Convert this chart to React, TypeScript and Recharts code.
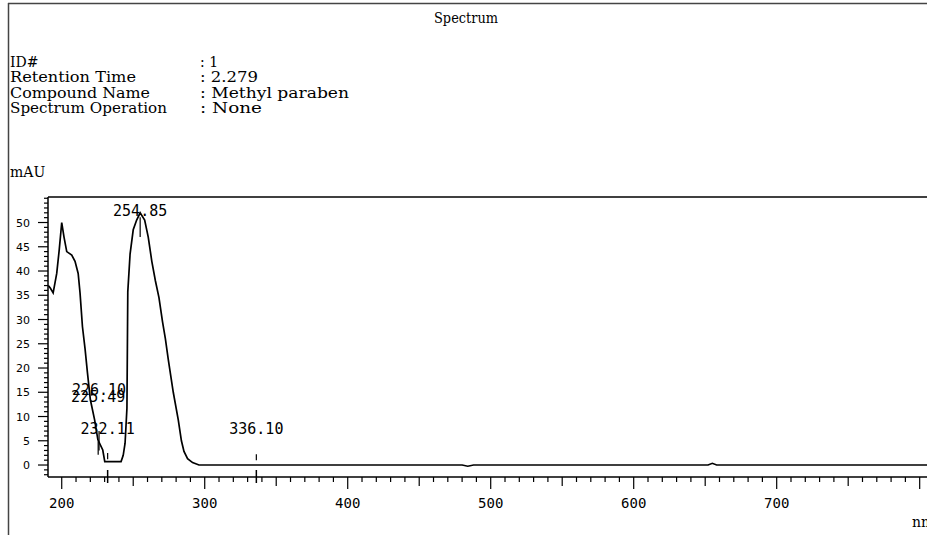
import React from 'react';
import { ComposedChart, Line, Scatter, XAxis, YAxis, ReferenceLine } from 'recharts';

// spectrum trace (nm vs mAU)
const wavelengths = [
  190.6, 192, 194, 196.5, 198.3, 200, 201.6, 203.5, 207, 209.3, 211.5, 212.8, 214.5, 216.3, 218,
  220, 223, 225.3, 228.7, 230.1, 241.5, 243, 244.3, 245.6, 246.2, 247.8, 250, 252.4, 254.85,
  258, 260.5, 263, 265.5, 268, 270.5, 272.5, 274.5, 278, 281.5, 283.7, 285.5, 288, 291.5, 296,
  300, 400, 480, 484, 488, 652, 655, 658, 750, 822,
];
const absorbance = [
  37, 36.5, 35.5, 39.5, 44.5, 50, 47, 44, 43.3, 42, 39.5, 35.5, 28.5, 24, 19,
  13.5, 9.3, 5.2, 3.1, 0.7, 0.7, 2, 4.5, 11.7, 35.7, 43.5, 48.5, 50.5, 52,
  50.5, 47, 42, 38, 34.5, 29.5, 26, 21.8, 15, 9.3, 5, 2.8, 1.3, 0.5, 0,
  0, 0, 0, -0.25, 0, 0, 0.35, 0, 0, 0,
];

// detected peaks
const peakNm = [225.49, 226.1, 232.11, 254.85, 336.1];
const peakLabels = ['225.49', '226.10', '232.11', '254.85', '336.10'];
const labelMAU = [14, 15.5, 7.4, 52.4, 7.4];
const markTop = [4.9, 7, 2.5, 51.1, 2.2];
const markBottom = [2.1, 3, 1.2, 47, 1];
const axisPeakMarks = [232.11, 336.1];

const xMajorTicks = [200, 300, 400, 500, 600, 700];
const yMajorTicks = [0, 5, 10, 15, 20, 25, 30, 35, 40, 45, 50];

const infoLabels = ['ID#', 'Retention Time', 'Compound Name', 'Spectrum Operation'];
const infoLabelWidths = [undefined, 126, 140, 157];
const infoValues = [': 1', ': 2.279', ': Methyl paraben', ': None'];
const infoValueWidths = [undefined, 58, 149, 62];

const X_MIN = 190.4;
const X_MAX = 821.2;
const Y_MIN = -2.47;
const Y_MAX = 55.26;

const xTicks: number[] = [];
for (let v = 200; v <= 820; v += 10) xTicks.push(v);
axisPeakMarks.forEach(v => xTicks.push(v));
xTicks.sort((a, b) => a - b);

const yTicks: number[] = [];
for (let v = -2; v <= 55; v++) yTicks.push(v);

const XTick = (props: any) => {
  const { x, y, payload } = props;
  const v = payload.value;
  if (axisPeakMarks.includes(v)) {
    return <line x1={x} x2={x} y1={y - 7} y2={y + 6} stroke="#000" strokeWidth={1.5} />;
  }
  const len = v % 100 === 0 ? 12 : v % 50 === 0 ? 9 : 5;
  return (
    <g>
      <line x1={x} x2={x} y1={y} y2={y + len} stroke="#000" strokeWidth={1.2} />
      {xMajorTicks.includes(v) && (
        <text x={x} y={y + 31} textAnchor="middle" fontFamily="DejaVu Sans Mono" fontSize={14} fill="#000">
          {v}
        </text>
      )}
    </g>
  );
};

const YTick = (props: any) => {
  const { x, y, payload } = props;
  const v = payload.value;
  const major = yMajorTicks.includes(v);
  return (
    <g>
      <line x1={x - (major ? 10 : 4)} x2={x} y1={y} y2={y} stroke="#000" strokeWidth={1.2} />
      {major && (
        <text x={x - 18} y={y + 4} textAnchor="end" fontFamily="DejaVu Sans" fontSize={11} fill="#000">
          {v}
        </text>
      )}
    </g>
  );
};

const PeakLabel = (props: any) => {
  const { cx, cy, payload } = props;
  return (
    <text x={cx} y={cy} dy="0.35em" textAnchor="middle" fontFamily="DejaVu Sans Mono" fontSize={15} fill="#000">
      {payload.text}
    </text>
  );
};

export default function App() {
  const data = wavelengths.map((nm, i) => ({ nm, mAU: absorbance[i] }));
  const labels = peakNm.map((nm, i) => ({ nm, mAU: labelMAU[i], text: peakLabels[i] }));
  const serif = { fontFamily: 'DejaVu Serif', fontSize: 14, fill: '#000', lengthAdjust: 'spacingAndGlyphs' as const };

  return (
    <div style={{ position: 'fixed', left: 0, top: 0, width: 927, height: 535, overflow: 'hidden', background: '#fff' }}>
      <ComposedChart width={960} height={535} data={data} margin={{ top: 197, right: 10, bottom: 0, left: 8 }}>
        <XAxis
          dataKey="nm"
          type="number"
          domain={[X_MIN, X_MAX]}
          allowDataOverflow
          ticks={xTicks}
          interval={0}
          tick={<XTick />}
          tickLine={false}
          tickSize={0}
          tickMargin={0}
          height={58}
          axisLine={{ stroke: '#000', strokeWidth: 1.5 }}
        />
        <YAxis
          type="number"
          domain={[Y_MIN, Y_MAX]}
          allowDataOverflow
          ticks={yTicks}
          interval={0}
          tick={<YTick />}
          tickLine={false}
          tickSize={0}
          tickMargin={0}
          width={40}
          axisLine={{ stroke: '#000', strokeWidth: 1.5 }}
        />
        <ReferenceLine y={Y_MAX} stroke="#000" strokeWidth={1.5} />
        <Line
          dataKey="mAU"
          type="linear"
          stroke="#000"
          strokeWidth={1.7}
          dot={false}
          isAnimationActive={false}
        />
        {peakNm.map((nm, i) => (
          <ReferenceLine
            key={`mark-${i}`}
            segment={[{ x: nm, y: markTop[i] }, { x: nm, y: markBottom[i] }]}
            stroke="#000"
            strokeWidth={1.2}
          />
        ))}
        <Scatter data={labels} dataKey="mAU" shape={<PeakLabel />} isAnimationActive={false} />
      </ComposedChart>

      <svg width={927} height={535} style={{ position: 'absolute', left: 0, top: 0, pointerEvents: 'none' }}>
        <line x1={8} x2={927} y1={3.5} y2={3.5} stroke="#444" strokeWidth={1.5} />
        <line x1={8.5} x2={8.5} y1={3} y2={535} stroke="#444" strokeWidth={1.5} />
        <text x={434} y={23} textLength={64} {...serif}>Spectrum</text>
        {infoLabels.map((t, i) => (
          <text key={t} x={10} y={67 + i * 15.4} textLength={infoLabelWidths[i]} {...serif}>{t}</text>
        ))}
        {infoValues.map((t, i) => (
          <text key={t} x={200} y={67 + i * 15.4} textLength={infoValueWidths[i]} {...serif}>{t}</text>
        ))}
        <text x={10} y={177} {...serif}>mAU</text>
        <text x={912} y={527} {...serif}>nm</text>
      </svg>
    </div>
  );
}
